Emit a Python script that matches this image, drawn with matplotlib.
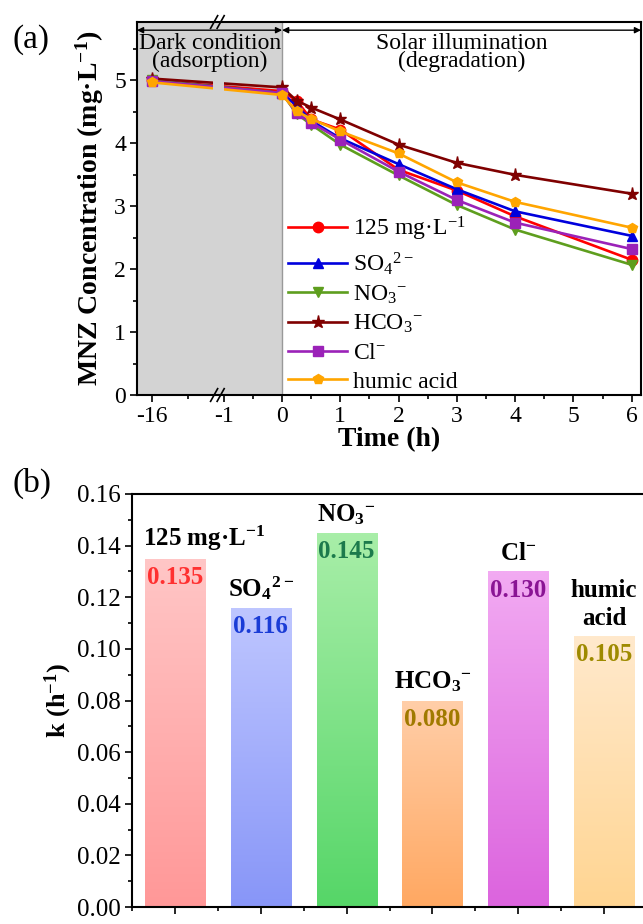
import numpy as np
import matplotlib
matplotlib.use('Agg')
import matplotlib.pyplot as plt
from matplotlib.colors import to_rgb
from matplotlib.ticker import MultipleLocator, FixedLocator, NullFormatter, FormatStrFormatter, FixedFormatter
import matplotlib.transforms as mtransforms
from matplotlib.patches import Rectangle

plt.rcParams['font.family'] = ['Liberation Serif', 'DejaVu Serif']
plt.rcParams['mathtext.default'] = 'regular'

# ---------------- data: panel (a) ----------------
time_h = [-16, 0, 0.25, 0.5, 1, 2, 3, 4, 6]
c_125 = [5.00, 4.83, 4.68, 4.38, 4.22, 3.58, 3.25, 2.84, 2.15]
c_so4 = [5.00, 4.80, 4.60, 4.36, 4.08, 3.67, 3.27, 2.92, 2.53]
c_no3 = [5.00, 4.80, 4.47, 4.30, 3.98, 3.49, 3.02, 2.63, 2.07]
c_hco3 = [5.03, 4.89, 4.68, 4.57, 4.38, 3.98, 3.69, 3.50, 3.20]
c_cl = [4.99, 4.80, 4.48, 4.33, 4.06, 3.55, 3.10, 2.74, 2.32]
c_humic = [4.97, 4.77, 4.51, 4.39, 4.19, 3.84, 3.38, 3.07, 2.66]
series_labels = ['125 mg·L$^{-1}$', 'SO$_4$$^{2-}$', 'NO$_3$$^{-}$', 'HCO$_3$$^{-}$', 'Cl$^{-}$', 'humic acid']
series_colors = ['#FF0000', '#0000DD', '#5E9E1E', '#7F0000', '#9B22B8', '#FFA500']
series_markers = ['o', '^', 'v', '*', 's', 'p']
x_ticks_a = [-16, -1, 0, 1, 2, 3, 4, 5, 6]

# ---------------- data: panel (b) ----------------
bar_labels = ['125 mg·L$^{-1}$', 'SO$_4$$^{2-}$', 'NO$_3$$^{-}$', 'HCO$_3$$^{-}$', 'Cl$^{-}$', 'humic\nacid']
k_values = [0.135, 0.116, 0.145, 0.080, 0.130, 0.105]
grad_top = ['#FFC6C6', '#BEC6FF', '#A8EEA8', '#FFCEA8', '#F2AAF2', '#FFE9CC']
grad_bot = ['#FF9898', '#8896F8', '#56D668', '#FFA862', '#DC64DE', '#FFD592']
value_colors = ['#FF3030', '#1A3CD6', '#1C7A4C', '#A07A00', '#8A1494', '#9E8A00']

FS_A = 17     # panel (a) ticks / legend / notes
FS_AL = 20    # panel (a) axis labels
FS_B = 18     # panel (b) ticks
FS_BT = 18    # panel (b) bar texts

fig = plt.figure(figsize=(6.43, 9.24), dpi=100)
W, H = 643.0, 924.0

# ---------------- panel (a) ----------------
axa = fig.add_axes([137 / W, 1 - 395 / H, (641 - 137) / W, (395 - 22) / H])

k_comp = 0.082
def fwd(t):
    t = np.asarray(t, dtype=float)
    return np.where(t < -1, -1 + (t + 1) * k_comp, t)
def inv(u):
    u = np.asarray(u, dtype=float)
    return np.where(u < -1, -1 + (u + 1) / k_comp, u)
axa.set_xscale('function', functions=(fwd, inv))

all_series = [c_125, c_so4, c_no3, c_hco3, c_cl, c_humic]
for ys, lab, col, mk in zip(all_series, series_labels, series_colors, series_markers):
    ms = 9.5 if mk == '*' else 7.5
    axa.plot(time_h, ys, color=col, marker=mk, ms=ms, lw=1.9, label=lab, zorder=3)

xmin_a = float(inv(-2.49))
axa.set_xlim(xmin_a, 6.16)
axa.set_ylim(0, 5.93)
axa.axvspan(xmin_a, 0, color='#D3D3D3', zorder=0, lw=0)
axa.axvline(0, color='#999999', lw=1.0, zorder=1)

blend = mtransforms.blended_transform_factory(axa.transAxes, axa.transData)
axa.add_patch(Rectangle((0.150, 4.4), 0.022, 0.9, transform=blend, color='#D3D3D3', zorder=4, lw=0))
for xb in (0.153, 0.166):
    for yb in (0.0, 1.0):
        axa.plot([xb - 0.007, xb + 0.007], [yb - 0.017, yb + 0.017], color='black', lw=1.2,
                 transform=axa.transAxes, clip_on=False, zorder=6)

axa.xaxis.set_major_locator(FixedLocator(x_ticks_a))
axa.xaxis.set_minor_locator(FixedLocator([-8.5, -0.5, 0.5, 1.5, 2.5, 3.5, 4.5, 5.5]))
axa.xaxis.set_major_formatter(FixedFormatter([str(v) for v in x_ticks_a]))
axa.xaxis.set_minor_formatter(NullFormatter())
axa.yaxis.set_major_locator(MultipleLocator(1))
axa.yaxis.set_minor_locator(MultipleLocator(0.5))
axa.tick_params(which='both', direction='out', top=False, right=False, labelsize=FS_A, width=1.2, pad=3)
axa.tick_params(which='major', length=5)
axa.tick_params(which='minor', length=3)
for s in axa.spines.values():
    s.set_linewidth(1.5)
axa.set_xlabel('Time (h)', fontsize=FS_AL, fontweight='bold', labelpad=0)
axa.set_ylabel('MNZ Concentration (mg·L$^{-1}$)', fontsize=FS_AL, fontweight='bold', labelpad=6)

y_arr = 5.80
for xa in (0.0, 1.0):
    axa.annotate('', xy=(0, y_arr), xycoords='data', xytext=(xa, y_arr), textcoords=('axes fraction', 'data'),
                 arrowprops=dict(arrowstyle='<|-|>', color='black', lw=1.0, mutation_scale=9, shrinkA=0, shrinkB=0))
axa.text(0.145, 5.76, 'Dark condition\n(adsorption)', transform=blend, ha='center', va='top',
         fontsize=FS_A, linespacing=0.85, zorder=7)
axa.text(0.645, 5.76, 'Solar illumination\n(degradation)', transform=blend, ha='center', va='top',
         fontsize=FS_A, linespacing=0.85, zorder=7)

axa.legend(loc='lower left', bbox_to_anchor=(0.295, 0.0), frameon=False, fontsize=FS_A,
           handlelength=2.5, handletextpad=0.25, labelspacing=0.3, borderpad=0.1, borderaxespad=0)

fig.text(12 / W, 1 - 40 / H, '(a)', fontsize=24, va='center', ha='left')

# ---------------- panel (b) ----------------
axb = fig.add_axes([132 / W, 1 - 907 / H, (647 - 132) / W, (907 - 494) / H])
xpos = np.arange(1, len(k_values) + 1)
bars = axb.bar(xpos, k_values, width=0.7, facecolor='none', edgecolor='none', zorder=2)
for patch, ct, cb in zip(bars.patches, grad_top, grad_bot):
    x0, y0 = patch.get_x(), patch.get_y()
    w, h = patch.get_width(), patch.get_height()
    frac = np.linspace(0, 1, 64)[:, None]
    grad = (1 - frac) * np.array(to_rgb(cb)) + frac * np.array(to_rgb(ct))
    im = axb.imshow(grad[:, None, :], extent=[x0, x0 + w, y0, y0 + h], origin='lower',
                    aspect='auto', zorder=2, interpolation='bilinear')
    im.set_clip_path(patch)

axb.set_xlim(0.5, 6.5)
axb.set_ylim(0, 0.16)
axb.set_aspect('auto')

for xi, v, lab, vc in zip(xpos, k_values, bar_labels, value_colors):
    axb.annotate(f'{v:.3f}', xy=(xi, v), xytext=(0, -19), textcoords='offset pixels',
                 ha='center', va='center', color=vc, fontsize=FS_BT, fontweight='bold', zorder=5)
    if xi == 1:
        axb.annotate(lab, xy=(xi - 0.35, v), xytext=(-2, 6), textcoords='offset pixels',
                     ha='left', va='bottom', fontsize=FS_BT, fontweight='bold', zorder=5)
    else:
        axb.annotate(lab, xy=(xi, v), xytext=(0, 6), textcoords='offset pixels',
                     ha='center', va='bottom', fontsize=FS_BT, fontweight='bold', zorder=5,
                     linespacing=1.25)

axb.xaxis.set_major_locator(FixedLocator(list(xpos)))
axb.xaxis.set_minor_locator(FixedLocator(list(xpos[:-1] + 0.5) + [0.5]))
axb.xaxis.set_major_formatter(NullFormatter())
axb.yaxis.set_major_locator(MultipleLocator(0.02))
axb.yaxis.set_minor_locator(MultipleLocator(0.01))
axb.yaxis.set_major_formatter(FormatStrFormatter('%.2f'))
axb.tick_params(which='both', direction='out', top=False, right=False, labelsize=FS_B, width=1.2, pad=3)
axb.tick_params(which='major', length=5)
axb.tick_params(which='minor', length=3)
for s in axb.spines.values():
    s.set_linewidth(1.5)
axb.set_ylabel('k (h$^{-1}$)', fontsize=19, fontweight='bold', labelpad=2)

fig.text(12 / W, 1 - 483 / H, '(b)', fontsize=24, va='center', ha='left')

fig.savefig('out.png', dpi=100)
